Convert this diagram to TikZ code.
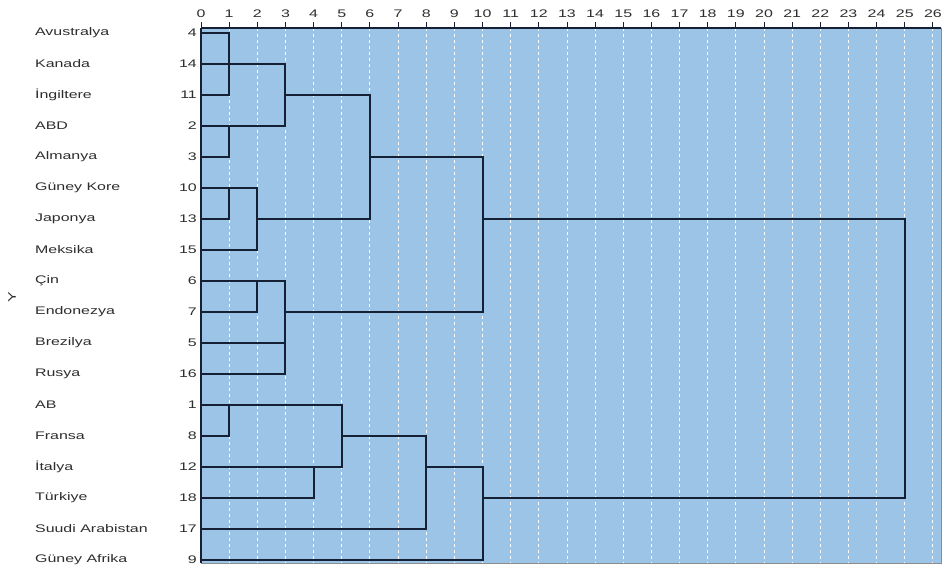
\documentclass[tikz,border=0pt]{standalone}
\usepackage{fontspec}
\setmainfont[FakeStretch=1.45]{Liberation Sans}
\usetikzlibrary{positioning}
\definecolor{plotbg}{RGB}{155,196,230}
\definecolor{linknavy}{RGB}{22,32,52}
\definecolor{labelgray}{RGB}{45,45,45}

\tikzset{
  link/.style={draw=linknavy, line width=2pt, line join=miter},
  gridline/.style={draw=white, line width=0.9pt, dash pattern=on 3pt off 3pt},
  axisline/.style={draw=linknavy, line width=1.2pt},
  leafnum/.style={anchor=east, inner sep=0pt, text=labelgray},
  leafname/.style={anchor=west, inner sep=0pt, text=labelgray},
  ticklabel/.style={anchor=base, inner sep=0pt, text=labelgray}
}

\begin{document}
\begin{tikzpicture}[x=1pt, y=-1pt, every node/.style={font=\fontsize{11}{13}\selectfont}]
\useasboundingbox (0,0) rectangle (943,572);
\fill[plotbg] (201,28) rectangle (941,563);
\draw[black!45, line width=0.6pt] (201,563) -- (941,563) -- (941,28);
\node[rotate=90, text=labelgray] (ylab) at (12,297) {Y};

\begin{scope}[shift={(201,33)}, x=28.15pt, y=-31pt]
% grid and top scale
\foreach \k in {1,...,26}
  \draw[gridline] (\k,-0.16) -- (\k,17.1);
\foreach \k in {0,...,26} {
  \draw[axisline, line width=0.9pt] (\k,-0.16) -- ++(0,6pt);
  \node[ticklabel] (t\k) at ([yshift=11pt]\k,-0.16) {\k};
}
\draw[axisline] (0,-0.16) -- (26.29,-0.16);
\draw[axisline] (0,-0.16) -- (0,17.1);

% leaves
\foreach \num/\name [count=\r from 0] in {4/Avustralya, 14/Kanada, 11/İngiltere, 2/ABD,
    3/Almanya, 10/Güney Kore, 13/Japonya, 15/Meksika, 6/Çin, 7/Endonezya, 5/Brezilya,
    16/Rusya, 1/AB, 8/Fransa, 12/İtalya, 18/Türkiye, 17/Suudi Arabistan, 9/Güney Afrika} {
  \node[leafnum] (n\num) at (-0.14,\r) {\num};
  \node[leafname] (c\num) at (-5.9,\r) {\name};
  \coordinate (l\num) at (0,\r);
}

% merge points
\coordinate (mA) at (1,1);
\coordinate (mB) at (1,3);
\coordinate (mC) at (3,2);
\coordinate (mD) at (1,5);
\coordinate (mE) at (2,6);
\coordinate (mF) at (6,4);
\coordinate (mG) at (2,8);
\coordinate (mH) at (3,9);
\coordinate (mI) at (10,6);
\coordinate (mJ) at (1,12);
\coordinate (mK) at (4,14);
\coordinate (mL) at (5,13);
\coordinate (mM) at (8,14);
\coordinate (mN) at (10,15);
\coordinate (mR) at (25,10);

% upper group
\draw[link] (l4) -| (mA) |- (l11);
\draw[link] (l14) -- (mA);
\draw[link] (l2) -- (mB) |- (l3);
\draw[link] (mA) -| (mC) |- (mB);
\draw[link] (l10) -- (mD) |- (l13);
\draw[link] (mD) -| (mE) |- (l15);
\draw[link] (mC) -| (mF) |- (mE);
\draw[link] (l6) -- (mG) |- (l7);
\draw[link] (mG) -| (mH) |- (l16);
\draw[link] (l5) -| (mH);
\draw[link] (mF) -| (mI) |- (mH);

% lower group
\draw[link] (l1) -- (mJ) |- (l8);
\draw[link] (l12) -- (mK) |- (l18);
\draw[link] (mJ) -| (mL) |- (mK);
\draw[link] (mL) -| (mM) |- (l17);
\draw[link] (mM) -| (mN) |- (l9);

% root
\draw[link] (mI) -| (mR) |- (mN);
\end{scope}
\end{tikzpicture}
\end{document}
